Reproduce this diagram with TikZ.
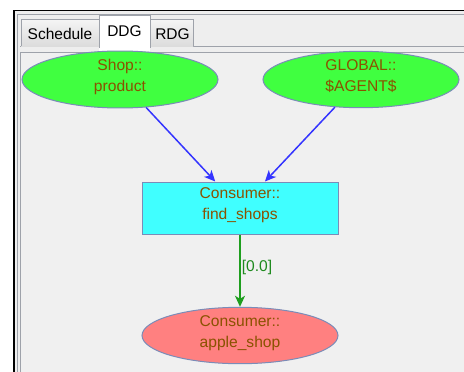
\documentclass[tikz,border=0pt]{standalone}
\usepackage{fontspec}
\setmainfont{Liberation Sans}
\usetikzlibrary{shapes.geometric,arrows.meta}

\definecolor{panel}{HTML}{EEEEEE}
\definecolor{canvas}{HTML}{F0F0F0}
\definecolor{frameedge}{HTML}{9EA2AA}
\definecolor{tabtop}{HTML}{F4F4F4}
\definecolor{tabbottom}{HTML}{DCDCDC}
\definecolor{nodeline}{HTML}{7A8CB8}
\definecolor{leafgreen}{HTML}{40FF40}
\definecolor{cyanbox}{HTML}{40FFFF}
\definecolor{salmon}{HTML}{FF8080}
\definecolor{nametext}{HTML}{8A5200}
\definecolor{flowblue}{HTML}{3434FF}
\definecolor{flowgreen}{HTML}{1E9E1E}
\definecolor{labelgreen}{HTML}{1E8A1E}

\tikzset{
  dnode/.style={draw=nodeline, line width=1pt, text=nametext,
    font=\fontsize{15.6}{21}\selectfont, align=center,
    text depth=8pt, inner sep=0pt},
  oval/.style={dnode, ellipse, minimum width=196pt, minimum height=53pt},
  opbox/.style={dnode, rectangle, minimum width=196pt, minimum height=52pt},
  flow/.style={line width=1.5pt,
    -{Stealth[length=11pt, width=10pt, inset=3pt]}},
  tabshape/.style={draw=frameedge, line width=0.8pt,
    top color=tabtop, bottom color=tabbottom},
  tabtext/.style={font=\fontsize{15.5}{18}\selectfont, text=black,
    anchor=base, inner sep=0pt},
}

\begin{document}
\begin{tikzpicture}[x=1pt, y=-1pt]
  \useasboundingbox (0,0) rectangle (464,372);
  \fill[white] (0,0) rectangle (464,372);

  % window frame and panel background
  \fill[panel] (14,11) rectangle (464,372);
  \fill[canvas] (20,52) rectangle (464,372);
  \draw[black, line width=1.2pt] (14,372) -- (14,10.6) -- (464,10.6);
  \draw[frameedge, line width=0.8pt] (17,372) -- (17,14) -- (464,14);

  % tab strip
  \draw[frameedge, line width=0.8pt] (20,46) -- (99,46);
  \draw[frameedge, line width=0.8pt] (150,46) -- (464,46);
  \draw[frameedge, line width=0.8pt] (20.5,372) -- (20.5,52) -- (464,52);

  \path[tabshape] (21,46) -- (21,19.5) -- (99,19.5) -- (99,46);
  \path[tabshape] (150,46) -- (150,19.5) -- (193,19.5) -- (193,46);
  \fill[white] (99,15.5) rectangle (150,51);
  \draw[frameedge, line width=0.8pt] (99,48) -- (99,15.5) -- (150,15.5) -- (150,48);

  \node[tabtext] (tabsched) at (60,39.3) {Schedule};
  \node[tabtext] (tabddg)   at (124.5,36) {DDG};
  \node[tabtext] (tabrdg)   at (172.5,39.5) {RDG};

  % data dependency graph
  \node[oval, fill=leafgreen] (shop)   at (120,79.5)  {Shop::\\product};
  \node[oval, fill=leafgreen] (agent)  at (361,79.5)  {GLOBAL::\\\$AGENT\$};
  \node[opbox, fill=cyanbox]  (find)   at (240,208)   {Consumer::\\find\_shops};
  \node[oval, fill=salmon]    (apple)  at (240,335.5) {Consumer::\\apple\_shop};

  \draw[flow, flowblue] (shop) -- (find);
  \draw[flow, flowblue] (agent) -- (find);
  \draw[flow, flowgreen] (find) -- node[pos=0.46, right=1pt, text=labelgreen,
    font=\fontsize{15.6}{18}\selectfont, inner sep=0pt] (weight) {[0.0]} (apple);
\end{tikzpicture}
\end{document}
